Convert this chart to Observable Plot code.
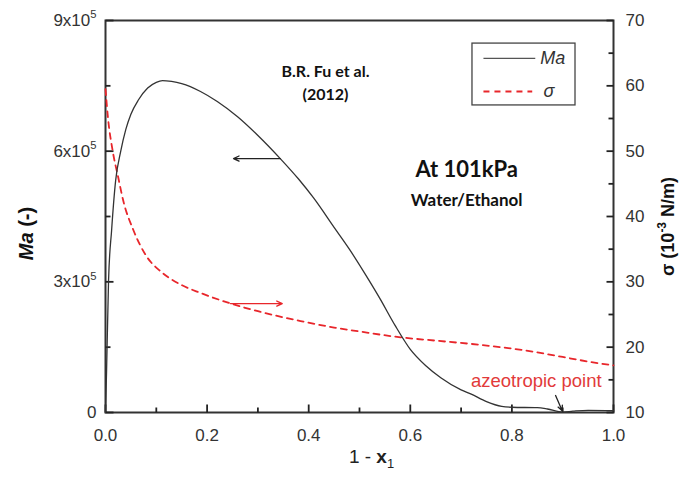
<!DOCTYPE html>
<html>
<head>
<meta charset="utf-8">
<script src="https://cdn.jsdelivr.net/npm/d3@7"></script>
<script src="https://cdn.jsdelivr.net/npm/@observablehq/plot@0.6"></script>
<style>
  html, body { margin: 0; padding: 0; background: #fff; }
  #chart { width: 685px; height: 480px; }
</style>
</head>
<body>
<div id="chart"></div>
<script>
// ---- data ----
const maX = [0, 0.002, 0.006, 0.012, 0.02, 0.03, 0.04, 0.05, 0.065, 0.083, 0.1, 0.112, 0.13, 0.15, 0.187, 0.22, 0.26, 0.3, 0.344, 0.38, 0.41, 0.45, 0.48, 0.51, 0.54, 0.57, 0.6, 0.63, 0.66, 0.7, 0.72, 0.75, 0.78, 0.8, 0.85, 0.87, 0.9, 0.92, 0.95, 1.0];
const maVal = [0, 90e3, 303e3, 418e3, 533e3, 600e3, 650e3, 685e3, 718e3, 745e3, 758e3, 762e3, 760e3, 755e3, 737e3, 714e3, 679e3, 636e3, 583e3, 536e3, 492e3, 425e3, 375e3, 320e3, 262e3, 200e3, 145e3, 108e3, 80e3, 52e3, 42e3, 25e3, 14e3, 12e3, 11e3, 8e3, 1e3, 3e3, 5e3, 4e3];

const sigX = [0, 0.005, 0.014, 0.025, 0.035, 0.055, 0.08, 0.11, 0.15, 0.187, 0.25, 0.3, 0.384, 0.45, 0.5, 0.581, 0.65, 0.719, 0.778, 0.85, 0.9, 0.95, 1.0];
const sigVal = [59.5, 55, 50.1, 46, 42.4, 37.9, 34, 31.5, 29.5, 28.3, 26.6, 25.5, 24, 23, 22.4, 21.5, 21.0, 20.5, 20.0, 19.2, 18.5, 17.8, 17.2];

const xTicks = [0, 0.2, 0.4, 0.6, 0.8, 1.0];
const xTickLabels = ["0.0", "0.2", "0.4", "0.6", "0.8", "1.0"];
const xMinor = [0.1, 0.3, 0.5, 0.7, 0.9];
const maTicks = [0, 3e5, 6e5, 9e5];
const maTickLabels = ["0", "3x10^{5}", "6x10^{5}", "9x10^{5}"];
const maMinor = [1.5e5, 4.5e5, 7.5e5];
const sigTicks = [10, 20, 30, 40, 50, 60, 70];
const sigMinor = [15, 25, 35, 45, 55, 65];
const sigDomain = [10, 70];
const maDomain = [0, 9e5];
const xDomain = [0, 1];

// annotations (data space)
const arrows = [
  {x1: 0.344, y1: 583e3, x2: 0.252, y2: 583e3, c: "#222"},
  {x1: 0.246, y1: 250e3, x2: 0.348, y2: 250e3, c: "#e8262b"},
  {x1: 0.886, y1: 39e3, x2: 0.899, y2: 4e3, c: "#222"}
];
const notes = [
  {x: 0.433, y: 781e3, t: "B.R. Fu et al.", size: 16},
  {x: 0.433, y: 730e3, t: "(2012)", size: 16},
  {x: 0.711, y: 556e3, t: "At 101kPa", size: 22},
  {x: 0.711, y: 487e3, t: "Water/Ethanol", size: 17}
];
const azeo = [{x: 0.848, y: 71e3, t: "azeotropic point"}];
const legendBox = [{x1: 0.7224, x2: 0.9252, y1: 705e3, y2: 847e3}];
const legendLines = [
  {x1: 0.744, x2: 0.846, y: 813e3},
  {x1: 0.744, x2: 0.840, y: 737e3}
];
const legendLabels = [
  {x: 0.856, y: 813e3, t: "Ma"},
  {x: 0.862, y: 737e3, t: "σ"}
];

// ---- layout ----
const W = 685, H = 480, mT = 20, mR = 72, mB = 68, mL = 105;
const plotW = W - mL - mR, plotH = H - mT - mB;
// tick lengths converted from pixels into data units
const tkY = px => px / plotH * (maDomain[1] - maDomain[0]);
const tkX = px => px / plotW * (xDomain[1] - xDomain[0]);

const toMa = s => (s - sigDomain[0]) / (sigDomain[1] - sigDomain[0]) * (maDomain[1] - maDomain[0]);
const maData = maX.map((x, i) => ({x, y: maVal[i]}));
const sigData = sigX.map((x, i) => ({x, y: toMa(sigVal[i])}));
const red = "#e8262b";
const one = [{}];

// tick segments in data space
const tickSegs = [
  ...xTicks.map(v => ({x1: v, x2: v, y1: 0, y2: tkY(8)})),
  ...xMinor.map(v => ({x1: v, x2: v, y1: 0, y2: tkY(5)})),
  ...maTicks.map(v => ({x1: 0, x2: tkX(8), y1: v, y2: v})),
  ...maMinor.map(v => ({x1: 0, x2: tkX(5), y1: v, y2: v})),
  ...sigTicks.map(v => ({x1: 1 - tkX(7), x2: 1, y1: toMa(v), y2: toMa(v)})),
  ...sigMinor.map(v => ({x1: 1 - tkX(5), x2: 1, y1: toMa(v), y2: toMa(v)}))
];

const plot = Plot.plot({
  width: W,
  height: H,
  marginTop: mT,
  marginRight: mR,
  marginBottom: mB,
  marginLeft: mL,
  x: {domain: xDomain},
  y: {domain: maDomain},
  style: {fontFamily: "'Liberation Sans', Arial, sans-serif", fontSize: "17px", color: "#333", background: "#fff"},
  marks: [
    Plot.frame({stroke: "#333", strokeWidth: 2}),
    // inward ticks
    Plot.link(tickSegs, {x1: "x1", x2: "x2", y1: "y1", y2: "y2", stroke: "#222", strokeWidth: 1.8}),
    // tick labels
    Plot.axisX({ticks: xTicks, tickSize: 0, tickPadding: 16, tickFormat: d => xTickLabels[xTicks.indexOf(d)], fontSize: 17}),
    Plot.axisY({ticks: maTicks, tickSize: 0, tickPadding: 9, tickFormat: d => maTickLabels[maTicks.indexOf(d)], fontSize: 17}),
    Plot.axisY({anchor: "right", ticks: sigTicks.map(toMa), tickSize: 0, tickPadding: 12,
      tickFormat: d => String(sigTicks[sigTicks.map(toMa).indexOf(d)]), fontSize: 17}),
    // data
    Plot.line(sigData, {x: "x", y: "y", stroke: red, strokeWidth: 1.8, strokeDasharray: "6,5", curve: "monotone-x"}),
    Plot.line(maData, {x: "x", y: "y", stroke: "#333", strokeWidth: 1.3, curve: "monotone-x"}),
    // annotations
    Plot.arrow(arrows, {x1: "x1", y1: "y1", x2: "x2", y2: "y2", stroke: "c", strokeWidth: 1.3, headLength: 7, headAngle: 50}),
    Plot.text(notes, {x: "x", y: "y", text: "t", fontSize: d => d.size, fontWeight: "bold", fontFamily: "Lato, 'Open Sans', sans-serif", fill: "#111"}),
    Plot.text(azeo, {x: "x", y: "y", text: "t", fontSize: 18.5, fill: "#e23a3a"}),
    Plot.rect(legendBox, {x1: "x1", x2: "x2", y1: "y1", y2: "y2", fill: "#fff", stroke: "#444", strokeWidth: 1.3}),
    Plot.link(legendLines.slice(0, 1), {x1: "x1", x2: "x2", y1: "y", y2: "y", stroke: "#555", strokeWidth: 1.3}),
    Plot.link(legendLines.slice(1), {x1: "x1", x2: "x2", y1: "y", y2: "y", stroke: red, strokeWidth: 1.8, strokeDasharray: "6,5"}),
    Plot.text(legendLabels, {x: "x", y: "y", text: "t", textAnchor: "start", fontSize: 18, fontStyle: "italic", fill: "#333"}),
    // axis titles
    Plot.text(one, {frameAnchor: "left", textAnchor: "middle", dx: -79, dy: 17, rotate: -90, text: () => "*{Ma} (-)", fontSize: 20, fontWeight: "bold", fill: "#111"}),
    Plot.text(one, {frameAnchor: "right", textAnchor: "middle", dx: 55, dy: 10, rotate: -90, text: () => "σ (10^{-3} N/m)", fontSize: 18, fontWeight: "bold", fill: "#111"}),
    Plot.text(one, {frameAnchor: "bottom", dx: 12, dy: 50, text: () => "1 - !{x}_{1}", fontSize: 19, fill: "#222"})
  ]
});

document.getElementById("chart").appendChild(plot);

// rich text: ^{sup}, _{sub}, *{italic}, !{bold}
const re = /(\^\{[^}]*\}|_\{[^}]*\}|\*\{[^}]*\}|!\{[^}]*\})/;
d3.select(plot).selectAll("text").each(function () {
  const el = this;
  const s = el.textContent;
  if (!re.test(s)) return;
  const fs = parseFloat(getComputedStyle(el).fontSize) || 16;
  const parts = s.split(re).filter(p => p !== "");
  el.textContent = "";
  let shift = 0;
  for (const p of parts) {
    const t = document.createElementNS("http://www.w3.org/2000/svg", "tspan");
    let target = 0, txt = p;
    if (p.startsWith("^{")) { txt = p.slice(2, -1); target = -0.45 * fs; t.setAttribute("font-size", (0.66 * fs) + "px"); }
    else if (p.startsWith("_{")) { txt = p.slice(2, -1); target = 0.3 * fs; t.setAttribute("font-size", (0.68 * fs) + "px"); }
    else if (p.startsWith("*{")) { txt = p.slice(2, -1); t.setAttribute("font-style", "italic"); }
    else if (p.startsWith("!{")) { txt = p.slice(2, -1); t.setAttribute("font-weight", "bold"); }
    const dyv = target - shift;
    if (dyv !== 0) t.setAttribute("dy", dyv + "px");
    shift = target;
    t.textContent = txt;
    el.appendChild(t);
  }
});
</script>
</body>
</html>
